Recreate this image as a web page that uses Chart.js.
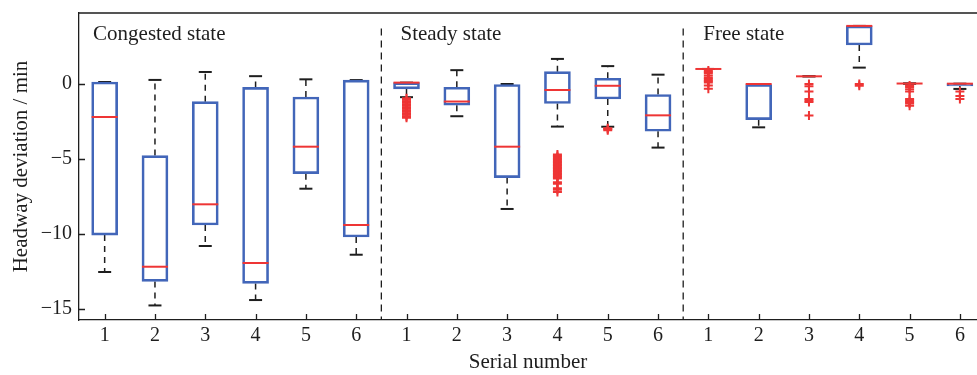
<!DOCTYPE html>
<html>
<head>
<meta charset="utf-8">
<title>Headway deviation by state</title>
<script src="https://cdn.jsdelivr.net/npm/chart.js@4.4.1/dist/chart.umd.min.js"></script>
<style>
  html, body { margin:0; padding:0; background:#fff; }
  #wrap { width:977px; height:375px; position:relative; }
</style>
</head>
<body>
<div id="wrap"><canvas id="chart"></canvas></div>
<script>
// ----------------- DATA -----------------
const groups = ['Congested state', 'Steady state', 'Free state'];
const groupLabelX = [0.77, 6.88, 12.9];   // caption start, x units
const groupLabelY = 2.93;                 // caption baseline, min
const serialLabels = ['1', '2', '3', '4', '5', '6'];
const positions = [1, 2, 3, 4, 5, 6, 7, 8, 9, 10, 11, 12, 13, 14, 15, 16, 17, 18];
const separators = [6.5, 12.5];
const separatorTop = 3.7;
const yTicks = [-15, -10, -5, 0];

// box statistics, 6 congested + 6 steady + 6 free
const q3 = [0.13, -4.77, -1.18, -0.23, -0.87, 0.26,
            0.09, -0.22, 0.0, 0.82, 0.38, -0.70,
            1.0, 0.0, 0.51, 3.87, 0.03, 0.02];
const medians = [-2.2, -12.18, -8.02, -11.93, -4.18, -9.4,
                 0.09, -1.17, -4.18, -0.4, -0.12, -2.09,
                 1.0, 0.0, 0.51, 3.87, 0.03, 0.02];
const q1 = [-10.07, -13.16, -9.4, -13.29, -5.98, -10.2,
            -0.33, -1.42, -6.24, -1.3, -1.0, -3.15,
            1.0, -2.38, 0.51, 2.6, 0.03, -0.13];
const whiskerHi = [0.13, 0.27, 0.8, 0.52, 0.31, 0.26,
                   0.09, 0.92, 0.0, 1.67, 1.19, 0.62,
                   1.0, 0.0, 0.51, 3.87, 0.03, 0.02];
const whiskerLo = [-12.53, -14.76, -10.8, -14.4, -6.98, -11.38,
                   -0.88, -2.15, -8.33, -2.84, -2.85, -4.24,
                   1.0, -2.89, 0.51, 1.09, 0.03, -0.33];
const outliers = [
  [], [], [], [], [], [],
  [-0.95, -1.05, -1.15, -1.25, -1.35, -1.45, -1.55, -1.65, -1.75, -1.85, -1.95, -2.05, -2.15, -2.25],
  [],
  [],
  [-4.7, -4.8, -4.9, -5.0, -5.1, -5.2, -5.3, -5.4, -5.5, -5.6, -5.7, -5.8, -5.9, -6.0, -6.1, -6.2, -6.3, -6.55, -6.65, -6.95, -7.05, -7.2],
  [-2.95, -3.0, -3.08],
  [],
  [0.9, 0.8, 0.7, 0.55, 0.4, 0.3, 0.2, 0.1, -0.1, -0.32],
  [],
  [0.0, -0.15, -0.5, -1.0, -1.1, -1.2, -2.1],
  [0.0, -0.12],
  [-0.1, -0.2, -0.35, -0.5, -1.0, -1.1, -1.2, -1.3, -1.45],
  [-0.5, -0.8, -1.0]
];
// --------------------------------------------------------------

const Y_MIN = -15.73, Y_MAX = 4.73;
const X_MIN = 0.49, X_MAX = 18.34;

const BLUE = '#4266b9';
const RED = '#ee3535';
const INK = '#1e1e1e';
const SERIF = "'Liberation Serif', 'Times New Roman', serif";

// whiskers as one broken line, null breaks the path
const whiskerPts = [];
positions.forEach((x, i) => {
  whiskerPts.push({x, y: q3[i]}, {x, y: whiskerHi[i]}, {x, y: null});
  whiskerPts.push({x, y: q1[i]}, {x, y: whiskerLo[i]}, {x, y: null});
});

const capPts = [];
positions.forEach((x, i) => {
  capPts.push({x, y: whiskerHi[i]}, {x, y: whiskerLo[i]});
});

const outlierPts = [];
positions.forEach((x, i) => {
  outliers[i].forEach(v => outlierPts.push({x, y: v}));
});

const sepPts = [];
separators.forEach(x => {
  sepPts.push({x, y: separatorTop}, {x, y: Y_MIN}, {x, y: null});
});

// top frame, inward tick marks and the group captions
const framePlugin = {
  id: 'frame',
  afterDraw(chart){
    const {ctx, chartArea: a, scales} = chart;
    ctx.save();
    ctx.strokeStyle = INK;
    ctx.lineWidth = 1.3;
    ctx.beginPath();
    ctx.moveTo(a.left, a.top);
    ctx.lineTo(a.right, a.top);
    scales.x.ticks.forEach(t => {
      const px = Math.round(scales.x.getPixelForValue(t.value)) + 0.5;
      ctx.moveTo(px, a.bottom);
      ctx.lineTo(px, a.bottom - 6);
    });
    scales.y.ticks.forEach(t => {
      const py = Math.round(scales.y.getPixelForValue(t.value)) + 0.5;
      ctx.moveTo(a.left, py);
      ctx.lineTo(a.left + 6, py);
    });
    ctx.stroke();

    ctx.fillStyle = INK;
    ctx.font = '21px ' + SERIF;
    ctx.textAlign = 'left';
    ctx.textBaseline = 'alphabetic';
    const gy = scales.y.getPixelForValue(groupLabelY);
    groups.forEach((g, i) => {
      ctx.fillText(g, scales.x.getPixelForValue(groupLabelX[i]), gy);
    });
    ctx.restore();
  }
};

new Chart(document.getElementById('chart'), {
  type: 'bar',
  data: {
    datasets: [
      {
        type: 'scatter', label: 'outliers', order: 0,
        data: outlierPts,
        pointStyle: 'cross', radius: 4.5, borderWidth: 2,
        borderColor: RED, backgroundColor: RED
      },
      {
        type: 'scatter', label: 'median', order: 1,
        data: positions.map((x, i) => ({x, y: medians[i]})),
        pointStyle: 'line', radius: 13, borderWidth: 2,
        borderColor: RED
      },
      {
        type: 'bar', label: 'box', order: 2,
        data: positions.map((x, i) => ({x, y: [q1[i], q3[i]]})),
        backgroundColor: 'rgba(0,0,0,0)',
        borderColor: BLUE, borderWidth: 2, borderSkipped: false,
        barThickness: 26
      },
      {
        type: 'scatter', label: 'caps', order: 3,
        data: capPts,
        pointStyle: 'line', radius: 6.5, borderWidth: 2,
        borderColor: INK
      },
      {
        type: 'line', label: 'whiskers', order: 4,
        data: whiskerPts,
        borderColor: INK, borderWidth: 1.5, borderDash: [6, 5],
        pointRadius: 0, spanGaps: false, fill: false
      },
      {
        type: 'line', label: 'separators', order: 5,
        data: sepPts,
        borderColor: INK, borderWidth: 1.3, borderDash: [7, 5],
        pointRadius: 0, spanGaps: false, fill: false
      }
    ]
  },
  options: {
    responsive: true,
    maintainAspectRatio: false,
    devicePixelRatio: 1,
    animation: false,
    layout: { autoPadding: false, padding: { top: 13, left: 0, right: 0, bottom: 0 } },
    plugins: { legend: { display: false }, tooltip: { enabled: false } },
    scales: {
      x: {
        type: 'linear', min: X_MIN, max: X_MAX, offset: false,
        grid: { drawOnChartArea: false, drawTicks: false },
        border: { color: INK, width: 1.3 },
        afterBuildTicks: s => { s.ticks = positions.map(v => ({value: v})); },
        afterFit: s => { s.height = 55; s.paddingLeft = 0; s.paddingRight = 0; },
        ticks: {
          autoSkip: false, maxRotation: 0, padding: 4,
          color: INK, font: { family: SERIF, size: 20 },
          callback: v => serialLabels[(v - 1) % 6]
        },
        title: {
          display: true, text: 'Serial number', color: INK,
          font: { family: SERIF, size: 21 }, padding: { top: 0, bottom: 0 }
        }
      },
      y: {
        type: 'linear', min: Y_MIN, max: Y_MAX,
        grid: { drawOnChartArea: false, drawTicks: false },
        border: { color: INK, width: 1.3 },
        afterBuildTicks: s => { s.ticks = yTicks.map(v => ({value: v})); },
        afterFit: s => { s.width = 79; s.paddingTop = 0; s.paddingBottom = 0; },
        ticks: {
          padding: 7, color: INK, font: { family: SERIF, size: 20 },
          callback: v => v < 0 ? '\u2212' + Math.abs(v) : String(v)
        },
        title: {
          display: true, text: 'Headway deviation / min', color: INK,
          font: { family: SERIF, size: 21 }, padding: { top: 9, bottom: 0 }
        }
      }
    }
  },
  plugins: [framePlugin]
});
</script>
</body>
</html>
